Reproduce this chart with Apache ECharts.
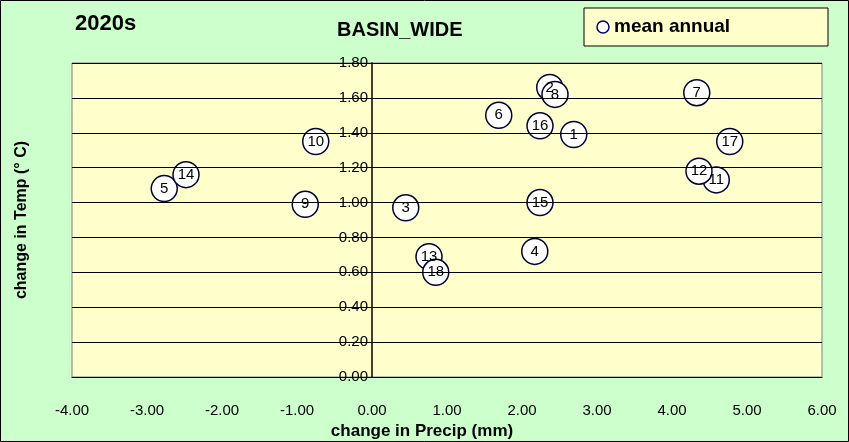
<!DOCTYPE html>
<html><head><meta charset="utf-8">
<script src="https://cdn.jsdelivr.net/npm/echarts@6/dist/echarts.min.js"></script>
<style>html,body{margin:0;padding:0;}#c{width:849px;height:442px;}</style>
</head><body><div id="c"></div>
<script>
const labels = ['1','2','3','4','5','6','7','8','9','10','11','12','13','14','15','16','17','18'];
const precip = [2.69,2.37,0.45,2.17,-2.77,1.69,4.33,2.44,-0.89,-0.75,4.59,4.36,0.76,-2.48,2.24,2.24,4.77,0.85];
const temp = [1.39,1.66,0.97,0.72,1.08,1.50,1.63,1.62,0.99,1.35,1.13,1.18,0.69,1.16,1.00,1.44,1.35,0.60];
const data = labels.map((l,i)=>({value:[precip[i],temp[i]],name:l}));
const chart = echarts.init(document.getElementById('c'));
const F = 'Liberation Sans, Arial, sans-serif';
chart.setOption({
  backgroundColor:'#ccffcc',
  animation:false,
  graphic:[
    {type:'rect',shape:{x:0.5,y:0.5,width:848,height:441},style:{fill:'none',stroke:'#000',lineWidth:1}},
    {type:'text',left:75,top:13,style:{text:'2020s',font:'bold 22px '+F,fill:'#000'}},
    {type:'text',left:337,top:20,style:{text:'BASIN_WIDE',font:'bold 20px '+F,fill:'#000'}},
    {type:'rect',shape:{x:584,y:8,width:244,height:38},style:{fill:'#ffffcc',stroke:'#000',lineWidth:1}},
    {type:'circle',shape:{cx:603,cy:27,r:6},style:{fill:'#fff',stroke:'#000066',lineWidth:1.5}},
    {type:'text',left:614,top:17,style:{text:'mean annual',font:'bold 19px '+F,fill:'#000'}},
    {type:'text',rotation:Math.PI/2,style:{text:'change in Temp (° C)',font:'bold 16px '+F,fill:'#000',align:'center',verticalAlign:'middle'},x:22,y:220}
  ],
  grid:{left:72,right:27,top:63,bottom:65,outerBoundsMode:'none',containLabel:false,show:true,backgroundColor:'#ffffcc',borderColor:'#808080',borderWidth:1},
  xAxis:{type:'value',min:-4,max:6,interval:1,
    axisLine:{onZero:false,lineStyle:{color:'#000'}},axisTick:{show:false},splitLine:{show:false},
    axisLabel:{formatter:v=>v.toFixed(2),color:'#000',fontSize:15,fontFamily:F,margin:26},
    name:'change in Precip (mm)',nameLocation:'middle',nameGap:46,
    nameTextStyle:{fontWeight:'bold',fontSize:17,fontFamily:F,color:'#000',padding:[0,0,0,-50]}},
  yAxis:{type:'value',min:0,max:1.8,interval:0.2,offset:-300,z:5,
    axisLine:{show:true,onZero:false,lineStyle:{color:'#000',width:1.5}},axisTick:{show:true,length:4,lineStyle:{color:'#000'}},
    splitLine:{lineStyle:{color:'#000',width:1}},
    axisLabel:{formatter:v=>v.toFixed(2),color:'#000',fontSize:15,fontFamily:F,margin:4}},
  series:[
    {type:'scatter',data:data,symbol:'circle',symbolSize:26,z:3,
    itemStyle:{color:'#fff',borderColor:'#000033',borderWidth:1.5,opacity:1},
    label:{show:true,formatter:p=>p.name,position:'inside',color:'#000',fontSize:15,fontFamily:F}}]
});
</script></body></html>
